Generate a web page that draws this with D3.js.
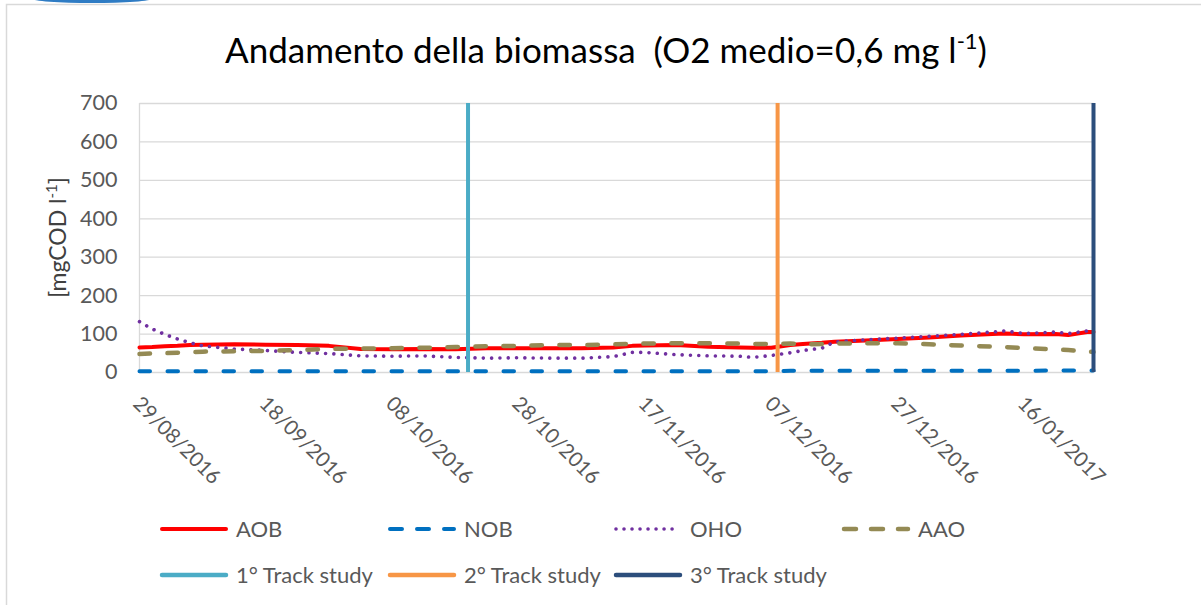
<!DOCTYPE html>
<html>
<head>
<meta charset="utf-8">
<script src="https://cdn.jsdelivr.net/npm/d3@7"></script>
<style>
  body { margin: 0; background: #fff; }
  svg { display: block; }
  text { font-family: Lato, "Open Sans", sans-serif; white-space: pre; }
</style>
</head>
<body>
<svg id="chart" width="1201" height="605"></svg>
<script>
// ---- data -------------------------------------------------------------
const dates = [
  "29/08/2016","31/08/2016","02/09/2016","04/09/2016","06/09/2016","08/09/2016",
  "13/09/2016","18/09/2016","23/09/2016","28/09/2016","03/10/2016","08/10/2016",
  "13/10/2016","18/10/2016","23/10/2016","28/10/2016","02/11/2016","07/11/2016",
  "12/11/2016","15/11/2016","17/11/2016","22/11/2016","27/11/2016","02/12/2016",
  "04/12/2016","07/12/2016","10/12/2016","12/12/2016","15/12/2016","17/12/2016",
  "22/12/2016","27/12/2016","01/01/2017","06/01/2017","11/01/2017","13/01/2017",
  "16/01/2017","21/01/2017","23/01/2017","26/01/2017","27/01/2017"
];
const aob = [64,65,67,68,70,71,72,71,70,68,60,59,60,59,62,62,62,62,64,68,69,70,66,64,
             63,63,70,73,76,79,82,86,90,95,99,100,98,99,96,104,104];
const nob = [2,2,2,2,2,2,2,2,2,2,2,2,2,2,2,2,2,2,2,2,2,2,2,2,
             2,2,3,3,3,3,3,3,3,3,3,3,3,4,4,4,4];
const oho = [131,112,98,86,76,68,60,56,51,48,42,41,42,38,36,37,36,36,40,51,51,45,42,41,
             38,43,50,56,62,78,84,88,93,98,104,107,100,104,100,107,108];
const aao = [47,48,49,50,51,53,54,55,57,60,61,62,63,65,67,68,70,70,72,73,74,75,75,74,
             73,73,74,72,73,74,75,75,72,69,66,65,62,59,57,53,52];

const seriesNames = ["AOB", "NOB", "OHO", "AAO"];
const seriesValues = [aob, nob, oho, aao];

const trackNames = ["1° Track study", "2° Track study", "3° Track study"];
const trackDates = ["20/10/2016", "08/12/2016", "27/01/2017"];
const trackRange = [0, 700];

const xTickLabels = ["29/08/2016","18/09/2016","08/10/2016","28/10/2016",
                     "17/11/2016","07/12/2016","27/12/2016","16/01/2017"];
const yTickValues = [0, 100, 200, 300, 400, 500, 600, 700];
const xDomain = ["29/08/2016", "27/01/2017"];

// ---- styles -----------------------------------------------------------
const seriesStyle = {
  "AOB": { stroke: "#FF0000", width: 4,   dash: null,        cap: "round" },
  "NOB": { stroke: "#0070C0", width: 4,   dash: "10.5 17.5", cap: "round" },
  "OHO": { stroke: "#7030A0", width: 3.6, dash: "0.01 8.3",  cap: "round" },
  "AAO": { stroke: "#948A54", width: 4.5, dash: "10.5 17.5", cap: "round" }
};
const trackColors = ["#4BACC6", "#F79646", "#2C4E7C"];

// ---- layout -----------------------------------------------------------
const svg = d3.select("#chart");
const plot = { left: 139.5, right: 1093.5, top: 103, bottom: 372 };
const parse = d3.timeParse("%d/%m/%Y");
const fmt = d3.timeFormat("%d/%m/%Y");

const x = d3.scaleTime().domain(xDomain.map(parse)).range([plot.left, plot.right]);
const y = d3.scaleLinear().domain([0, 700]).range([plot.bottom, plot.top]);

// chart frame
svg.append("rect").attr("x", 6.5).attr("y", 4.5).attr("width", 1200).attr("height", 610)
  .attr("fill", "#fff").attr("stroke", "#D9D9D9").attr("stroke-width", 1.5);
svg.append("ellipse").attr("cx", 92).attr("cy", -1.5).attr("rx", 60).attr("ry", 4.6)
  .attr("fill", "#2F7CC4");

// title
const title = svg.append("text").attr("x", 606).attr("y", 63)
  .attr("text-anchor", "middle").attr("fill", "#000").style("font-size", "35px");
title.append("tspan").text("Andamento della biomassa  (O2 medio=0,6 mg l");
title.append("tspan").attr("dy", -14).style("font-size", "22px").text("-1");
title.append("tspan").attr("dy", 14).text(")");

// gridlines
const grid = svg.append("g").attr("transform", `translate(${plot.left},0)`)
  .call(d3.axisLeft(y).tickValues(yTickValues).tickSize(-(plot.right - plot.left)).tickFormat(""));
grid.select(".domain").remove();
grid.selectAll("line").attr("stroke", "#D9D9D9").attr("stroke-width", 1.3);

// left axis line
svg.append("line").attr("x1", plot.left).attr("x2", plot.left)
  .attr("y1", plot.top).attr("y2", plot.bottom)
  .attr("stroke", "#D9D9D9").attr("stroke-width", 1.3);

// y axis labels
const yAxis = svg.append("g").attr("transform", `translate(${plot.left},0)`)
  .call(d3.axisLeft(y).tickValues(yTickValues).tickSize(0).tickPadding(22));
yAxis.select(".domain").remove();
yAxis.selectAll("text").attr("fill", "#595959").style("font-size", "21.5px")
  .style("font-family", "Lato, 'Open Sans', sans-serif");

// x axis labels
const xAxis = svg.append("g").attr("transform", `translate(0,${plot.bottom})`)
  .call(d3.axisBottom(x).tickValues(xTickLabels.map(parse)).tickFormat(fmt).tickSize(0));
xAxis.select(".domain").remove();
xAxis.selectAll("text")
  .attr("x", 0).attr("y", 0).attr("dy", "0.35em")
  .attr("text-anchor", "start")
  .attr("transform", "translate(-3,28) rotate(45)")
  .attr("fill", "#595959").style("font-size", "20.5px")
  .style("font-family", "Lato, 'Open Sans', sans-serif");

// y axis title
const yTitle = svg.append("text")
  .attr("transform", `translate(58,${(plot.top + plot.bottom) / 2}) rotate(-90)`)
  .attr("text-anchor", "middle").attr("dy", "0.35em")
  .attr("fill", "#404040").style("font-size", "23px");
yTitle.append("tspan").text("[mgCOD l");
yTitle.append("tspan").attr("dy", -9).style("font-size", "15px").text("-1");
yTitle.append("tspan").attr("dy", 9).text("]");

// series lines
const line = d3.line().x(d => x(d.date)).y(d => y(d.v));
seriesNames.forEach((name, i) => {
  const pts = dates.map((d, j) => ({ date: parse(d), v: seriesValues[i][j] }));
  const s = seriesStyle[name];
  svg.append("path").datum(pts).attr("d", line)
    .attr("fill", "none").attr("stroke", s.stroke).attr("stroke-width", s.width)
    .attr("stroke-linecap", s.cap).attr("stroke-linejoin", "round")
    .attr("stroke-dasharray", s.dash);
});

// track study markers
trackNames.forEach((name, i) => {
  const pts = trackRange.map(v => ({ date: parse(trackDates[i]), v }));
  svg.append("path").datum(pts).attr("d", line)
    .attr("fill", "none").attr("stroke", trackColors[i]).attr("stroke-width", 4);
});

// legend
const legendItems = [
  ...seriesNames.map(n => ({ name: n, ...seriesStyle[n] })),
  ...trackNames.map((n, i) => ({ name: n, stroke: trackColors[i], width: 4.5, dash: null, cap: "round" }))
];
const legendPos = [
  [160, 529], [388, 529], [614, 529], [842, 529],
  [160, 575], [388, 575], [614, 575]
];
legendItems.forEach((it, i) => {
  const [lx, ly] = legendPos[i];
  const g = svg.append("g").attr("transform", `translate(${lx},${ly})`);
  g.append("line").attr("x1", 2).attr("x2", 66).attr("y1", 0).attr("y2", 0)
    .attr("stroke", it.stroke).attr("stroke-width", it.width)
    .attr("stroke-linecap", it.cap)
    .attr("stroke-dasharray", it.name === "OHO" ? "0.01 8" : (it.dash ? "12 15" : null));
  g.append("text").attr("x", 76).attr("y", 0).attr("dy", "0.35em")
    .attr("fill", "#595959").style("font-size", "22px").text(it.name);
});
</script>
</body>
</html>
